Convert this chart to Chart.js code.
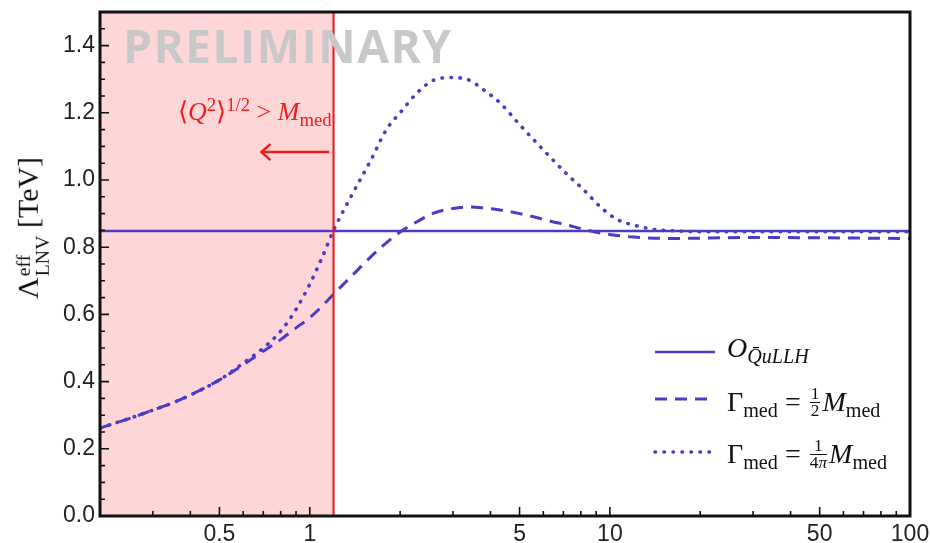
<!DOCTYPE html>
<html>
<head>
<meta charset="utf-8">
<script src="https://cdn.jsdelivr.net/npm/chart.js@4.4.1/dist/chart.umd.min.js"></script>
<style>
  html, body { margin: 0; padding: 0; background: #fff; }
  #wrap { position: relative; width: 930px; height: 543px; overflow: hidden; }
  #wrap canvas { position: absolute; left: 0; top: 0; }
  .tx { position: absolute; white-space: nowrap; line-height: 1; font-family: 'Liberation Serif', 'Times New Roman', serif; }
  .tx sub, .tx sup { line-height: 0; font-size: 0.72em; }
  .tx sub { vertical-align: -0.3em; }
  .tx sup { vertical-align: 0.5em; }
  .frac { display: inline-block; vertical-align: -0.32em; text-align: center; font-size: 0.62em; line-height: 0.95; margin: 0 2px; }
  .frac span { display: block; }
  .frac .num { border-bottom: 1px solid currentColor; padding: 0 1px; }
  .ss { display: inline-flex; flex-direction: column; font-size: 0.66em; line-height: 1; vertical-align: 0.42em; margin-left: 1px; }
  #prelim { font-family: 'Open Sans', sans-serif; font-weight: bold; font-size: 46px; letter-spacing: 1.5px; color: #c8c8c8; left: 123px; top: 22px; }
  #note { color: #ee1c1c; font-size: 26px; left: 178px; top: 99px; }
  #ytitle { font-size: 30px; left: 33px; top: 228px; transform: translate(-50%, -50%) rotate(-90deg); color: #111; }
  .leg { font-size: 28px; left: 727px; color: #111; }
</style>
</head>
<body>
<div id="wrap">
  <canvas id="chart" width="930" height="543"></canvas>
  <div class="tx" id="prelim">PRELIMINARY</div>
  <div class="tx" id="note">⟨<i>Q</i><sup>2</sup>⟩<sup>1/2</sup> &gt; <i>M</i><sub>med</sub></div>
  <div class="tx" id="ytitle">Λ<span class="ss"><span>eff</span><span>LNV</span></span> [TeV]</div>
  <div class="tx leg" style="top:334px"><i>O</i><sub><i>Q̄uLLH</i></sub></div>
  <div class="tx leg" style="top:386px">Γ<sub>med</sub> = <span class="frac"><span class="num">1</span><span>2</span></span><i>M</i><sub>med</sub></div>
  <div class="tx leg" style="top:438px">Γ<sub>med</sub> = <span class="frac"><span class="num">1</span><span>4<i>π</i></span></span><i>M</i><sub>med</sub></div>
</div>
<script>
// Q^{1/2} scale in TeV (log axis) and effective LNV scale in TeV
var xGrid = [0.2, 0.25, 0.3, 0.35, 0.4, 0.5, 0.6, 0.7, 0.8, 0.9, 1.0, 1.1, 1.2, 1.4, 1.6, 1.8, 2.0, 2.3, 2.6, 3.0,
             3.4, 3.8, 4.3, 5.0, 5.6, 6.3, 7.2, 8.2, 9.3, 10.6, 12, 14, 17, 20, 30, 50, 100];
var halfWidth = [0.262, 0.29, 0.315, 0.337, 0.36, 0.405, 0.45, 0.49, 0.525, 0.56, 0.59, 0.625, 0.66, 0.72, 0.772, 0.813, 0.845, 0.878, 0.902, 0.915,
                 0.92, 0.917, 0.911, 0.9, 0.89, 0.878, 0.866, 0.853, 0.842, 0.835, 0.83, 0.827, 0.826, 0.827, 0.829, 0.828, 0.826];
var quarterPi = [0.262, 0.29, 0.315, 0.337, 0.36, 0.405, 0.455, 0.5, 0.55, 0.615, 0.69, 0.77, 0.85, 0.965, 1.06, 1.15, 1.2, 1.263, 1.298, 1.305,
                 1.297, 1.268, 1.23, 1.165, 1.118, 1.07, 1.017, 0.97, 0.92, 0.882, 0.866, 0.853, 0.848, 0.846, 0.846, 0.846, 0.846];
var opX = [0.2, 100];
var opY = [0.848, 0.848];

var xTickValues = [0.3, 0.4, 0.5, 0.6, 0.7, 0.8, 0.9, 1, 2, 3, 4, 5, 6, 7, 8, 9, 10, 20, 30, 40, 50, 60, 70, 80, 90, 100];
var xTickLabels = ['', '', '0.5', '', '', '', '', '1', '', '', '', '5', '', '', '', '', '10', '', '', '', '50', '', '', '', '', '100'];
var yTickValues = [0, 0.05, 0.1, 0.15, 0.2, 0.25, 0.3, 0.35, 0.4, 0.45, 0.5, 0.55, 0.6, 0.65, 0.7, 0.75,
                   0.8, 0.85, 0.9, 0.95, 1.0, 1.05, 1.1, 1.15, 1.2, 1.25, 1.3, 1.35, 1.4, 1.45];
var yTickLabels = ['0.0', '', '', '', '0.2', '', '', '', '0.4', '', '', '', '0.6', '', '', '',
                   '0.8', '', '', '', '1.0', '', '', '', '1.2', '', '', '', '1.4', ''];

// shaded region <Q^2>^1/2 > M_med and its arrow
var shadeFrom = 0.2, shadeTo = 1.2;
var arrowY = 1.083, arrowFrom = 1.16, arrowTo = 0.69;

var lineColor = '#4a3cc4';

function pts(xs, ys) {
    return xs.map(function (v, i) { return { x: v, y: ys[i] }; });
}

var decor = {
    id: 'decor',
    beforeDatasetsDraw: function (chart) {
        var ctx = chart.ctx, a = chart.chartArea, x = chart.scales.x;
        ctx.save();
        var x0 = x.getPixelForValue(shadeFrom), x1 = x.getPixelForValue(shadeTo);
        ctx.fillStyle = '#ffd6d8';
        ctx.fillRect(x0, a.top, x1 - x0, a.bottom - a.top);
        ctx.restore();
    },
    afterDatasetsDraw: function (chart) {
        var ctx = chart.ctx, a = chart.chartArea, x = chart.scales.x, y = chart.scales.y;
        ctx.save();
        // red boundary
        var xr = x.getPixelForValue(shadeTo);
        ctx.strokeStyle = '#ee1111';
        ctx.lineWidth = 2;
        ctx.beginPath();
        ctx.moveTo(xr, a.top);
        ctx.lineTo(xr, a.bottom);
        ctx.stroke();

        // arrow
        var ay = y.getPixelForValue(arrowY);
        var ax0 = x.getPixelForValue(arrowFrom), ax1 = x.getPixelForValue(arrowTo);
        ctx.strokeStyle = '#ee1c1c';
        ctx.lineWidth = 2.5;
        ctx.beginPath();
        ctx.moveTo(ax0, ay);
        ctx.lineTo(ax1, ay);
        ctx.moveTo(ax1 + 9, ay - 8);
        ctx.lineTo(ax1, ay);
        ctx.lineTo(ax1 + 9, ay + 8);
        ctx.stroke();

        // inward tick marks
        ctx.strokeStyle = '#111';
        ctx.lineWidth = 1.6;
        ctx.beginPath();
        xTickValues.forEach(function (v, i) {
            var px = x.getPixelForValue(v);
            var len = xTickLabels[i] ? 9 : 5;
            ctx.moveTo(px, a.bottom);
            ctx.lineTo(px, a.bottom - len);
        });
        yTickValues.forEach(function (v, i) {
            var py = y.getPixelForValue(v);
            var len = yTickLabels[i] ? 9 : 5;
            ctx.moveTo(a.left, py);
            ctx.lineTo(a.left + len, py);
        });
        ctx.stroke();

        // frame
        ctx.lineWidth = 3;
        ctx.strokeStyle = '#111';
        ctx.strokeRect(a.left, a.top, a.right - a.left, a.bottom - a.top);

        // legend samples using the dataset styles
        var rows = [352, 399, 452];
        chart.data.datasets.forEach(function (ds, i) {
            ctx.strokeStyle = ds.borderColor;
            ctx.lineWidth = ds.borderWidth;
            ctx.lineCap = ds.borderCapStyle || 'butt';
            ctx.setLineDash(ds.borderDash || []);
            ctx.beginPath();
            ctx.moveTo(655, rows[i]);
            ctx.lineTo(715, rows[i]);
            ctx.stroke();
        });
        ctx.restore();
    }
};

new Chart(document.getElementById('chart'), {
    type: 'line',
    data: {
        datasets: [{
            label: 'O_QuLLH',
            data: pts(opX, opY),
            borderColor: lineColor,
            borderWidth: 2.5,
            pointRadius: 0
        }, {
            label: 'Gamma = M/2',
            data: pts(xGrid, halfWidth),
            borderColor: lineColor,
            borderWidth: 3,
            borderDash: [12, 8],
            pointRadius: 0,
            cubicInterpolationMode: 'monotone'
        }, {
            label: 'Gamma = M/(4 pi)',
            data: pts(xGrid, quarterPi),
            borderColor: lineColor,
            borderWidth: 3.6,
            borderDash: [0.5, 8.5],
            borderCapStyle: 'round',
            pointRadius: 0,
            cubicInterpolationMode: 'monotone'
        }]
    },
    options: {
        responsive: false,
        animation: false,
        layout: { padding: { top: 12, right: 20, left: 0, bottom: 0 } },
        plugins: { legend: { display: false }, tooltip: { enabled: false } },
        scales: {
            x: {
                type: 'logarithmic',
                min: 0.2,
                max: 100,
                grid: { display: false, drawTicks: false },
                border: { display: false },
                afterBuildTicks: function (s) {
                    s.ticks = xTickValues.map(function (v) { return { value: v }; });
                },
                afterFit: function (s) {
                    s.height = 27;
                    s.paddingLeft = 0;
                    s.paddingRight = 0;
                },
                ticks: {
                    autoSkip: false,
                    maxRotation: 0,
                    padding: 5,
                    color: '#222',
                    font: { family: 'Liberation Sans', size: 23 },
                    callback: function (v, i) { return xTickLabels[i]; }
                }
            },
            y: {
                min: 0,
                max: 1.5,
                grid: { display: false, drawTicks: false },
                border: { display: false },
                afterBuildTicks: function (s) {
                    s.ticks = yTickValues.map(function (v) { return { value: v }; });
                },
                afterFit: function (s) {
                    s.width = 100;
                    s.paddingTop = 0;
                    s.paddingBottom = 0;
                },
                ticks: {
                    autoSkip: false,
                    padding: 5,
                    color: '#222',
                    font: { family: 'Liberation Sans', size: 23 },
                    callback: function (v, i) { return yTickLabels[i]; }
                }
            }
        }
    },
    plugins: [decor]
});
</script>
</body>
</html>
